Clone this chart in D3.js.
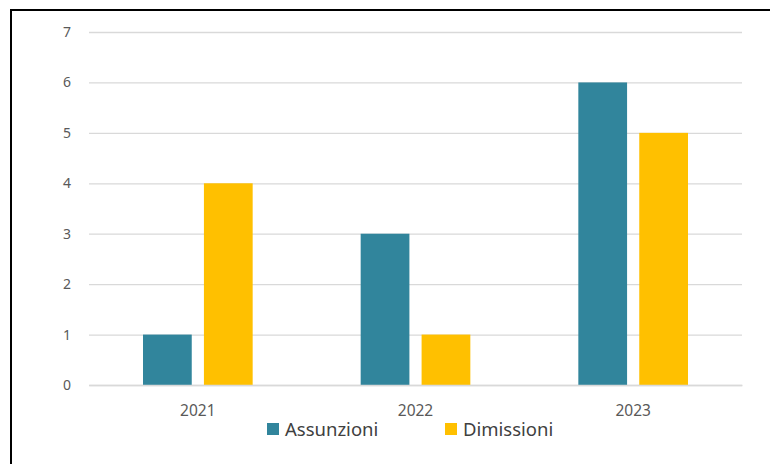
<!DOCTYPE html>
<html>
<head>
<meta charset="utf-8">
<script src="https://cdn.jsdelivr.net/npm/d3@7"></script>
<style>
  body { margin: 0; background: #fff; }
  svg { display: block; }
  .tick text { fill: #595959; font-family: "Noto Sans", sans-serif; }
</style>
</head>
<body>
<svg id="chart" width="770" height="464"></svg>
<script>
// Data
const years = ['2021', '2022', '2023'];
const seriesNames = ['Assunzioni', 'Dimissioni'];
const assunzioni = [1, 3, 6];
const dimissioni = [4, 1, 5];
const yTicks = [0, 1, 2, 3, 4, 5, 6, 7];

const colors = ['#31859c', '#ffc000'];

/**
 * Layout.
 */
const margin = { top: 32, right: 28, bottom: 79, left: 89 },
    visWidth = 770, visHeight = 464,
    width = visWidth - margin.left - margin.right,
    height = visHeight - margin.top - margin.bottom;

const svg = d3.select('#chart');

// Frame (only top and left edges show in the picture)
svg.append('path')
    .attr('d', 'M11,464 L11,10 L770,10')
    .attr('fill', 'none')
    .attr('stroke', '#000')
    .attr('stroke-width', 2);

const g = svg.append('g').attr('transform', 'translate(' + margin.left + ',' + margin.top + ')');

/**
 * Scales.
 */
const xScale = d3.scaleBand().domain(years).range([0, width]).paddingInner(0).paddingOuter(0);
const seriesScale = d3.scaleBand().domain(seriesNames)
    .range([54, xScale.bandwidth() - 54]).paddingInner(0.2);
const yScale = d3.scaleLinear().domain([0, 7]).range([height, 0]);

// Gridlines
g.append('g')
    .call(d3.axisLeft(yScale).tickValues(yTicks).tickSize(-width).tickFormat(''))
    .call(s => s.select('.domain').remove())
    .call(s => s.selectAll('line').attr('stroke', '#d9d9d9').attr('stroke-width', 1.3));

// Y axis labels
g.append('g')
    .call(d3.axisLeft(yScale).tickValues(yTicks).tickSize(0).tickPadding(18).tickFormat(d3.format('d')))
    .call(s => s.select('.domain').remove())
    .call(s => s.selectAll('text').style('font-size', '14px'));

// Bars
const rows = years.map((y, i) => ({ year: y, values: [assunzioni[i], dimissioni[i]] }));
const groups = g.selectAll('.group').data(rows).enter().append('g')
    .attr('class', 'group')
    .attr('transform', d => 'translate(' + xScale(d.year) + ',0)');

groups.selectAll('rect')
    .data(d => d.values.map((v, i) => ({ name: seriesNames[i], value: v, idx: i })))
    .enter().append('rect')
    .attr('x', d => seriesScale(d.name))
    .attr('width', seriesScale.bandwidth())
    .attr('y', d => yScale(d.value))
    .attr('height', d => yScale(0) - yScale(d.value))
    .attr('fill', d => colors[d.idx]);

// X axis
g.append('g')
    .attr('transform', 'translate(0,' + height + ')')
    .call(d3.axisBottom(xScale).tickSize(0).tickPadding(20))
    .call(s => s.select('.domain').attr('stroke', '#d9d9d9').attr('stroke-width', 1.3))
    .call(s => s.selectAll('text').style('font-size', '15.5px'));

// Legend
const legendX = [267, 445];
const legend = svg.append('g').selectAll('.legend').data(seriesNames).enter().append('g')
    .attr('class', 'legend')
    .attr('transform', (d, i) => 'translate(' + legendX[i] + ',423)');

legend.append('rect')
    .attr('width', 12).attr('height', 12)
    .attr('fill', (d, i) => colors[i]);

legend.append('text')
    .attr('x', 18).attr('y', 12.5)
    .attr('fill', '#404040')
    .style('font-family', '"Noto Sans", sans-serif')
    .style('font-size', '18.5px')
    .text(d => d);
</script>
</body>
</html>
